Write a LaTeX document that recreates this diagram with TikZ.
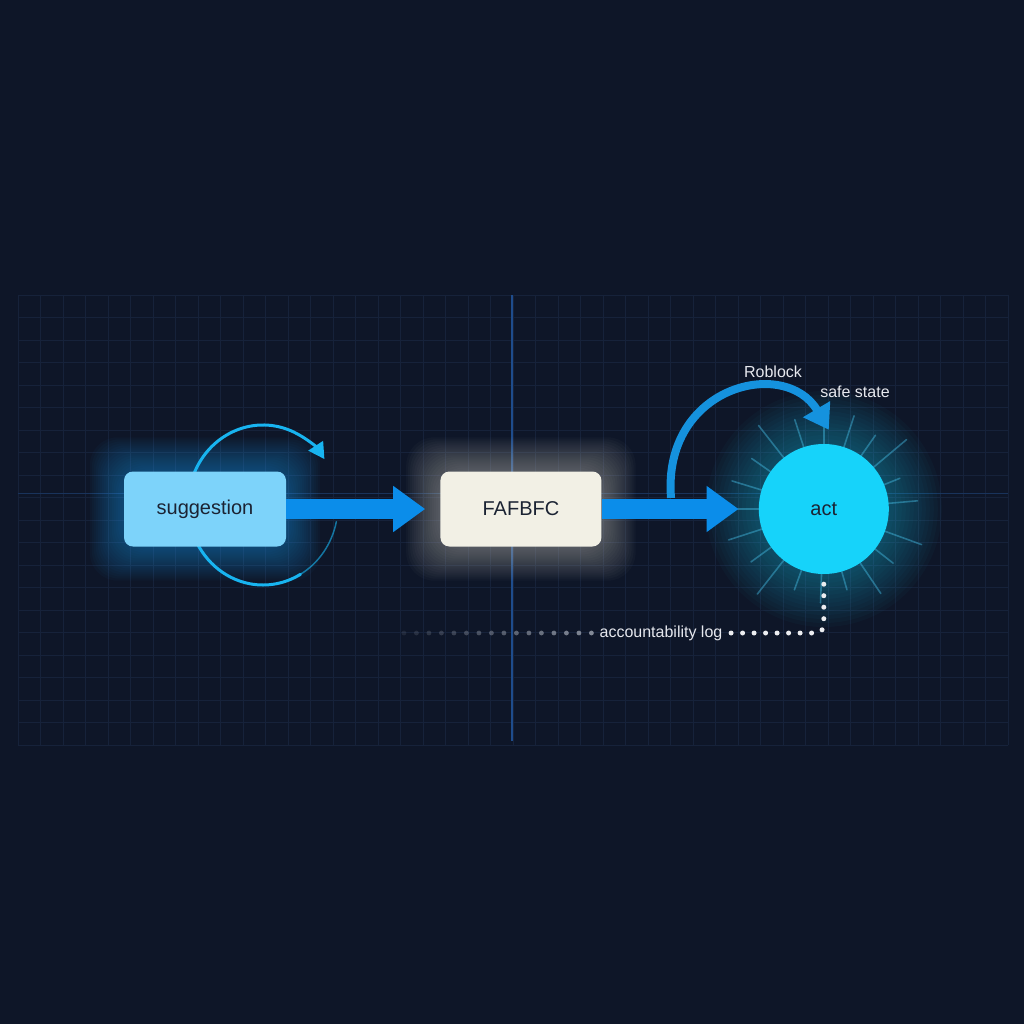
\documentclass[tikz,border=0pt]{standalone}
\usepackage{fontspec}
\setmainfont{Liberation Sans}
\usetikzlibrary{positioning,arrows.meta,backgrounds}
\definecolor{bgnavy}{HTML}{0E1628}
\definecolor{gridc}{HTML}{16223A}
\definecolor{axisc}{HTML}{1E4C8C}
\definecolor{sugfill}{HTML}{7DD3FA}
\definecolor{sugglow}{HTML}{1F9BEA}
\definecolor{cream}{HTML}{F2F0E5}
\definecolor{creamglow}{HTML}{D9D7CC}
\definecolor{flowc}{HTML}{0B8DEA}
\definecolor{actc}{HTML}{16D3FA}
\definecolor{rayc}{HTML}{4CCBF5}
\definecolor{cycc}{HTML}{18B4F0}
\definecolor{rbc}{HTML}{1592DE}
\definecolor{inkd}{HTML}{1B2333}
\definecolor{labc}{HTML}{E6E8EE}
\definecolor{dotc}{HTML}{ECEDF0}
\definecolor{dotg}{HTML}{9EA4B0}

\begin{document}
\begin{tikzpicture}[x=1pt, y=-1pt,
  box/.style={rounded corners=9pt, minimum width=162pt, minimum height=75pt, inner sep=0pt,
              text=inkd, font=\fontsize{20}{24}\selectfont},
  flow/.style={draw=flowc, line width=20pt, -{Triangle[length=32pt,width=44pt]}},
  cycarc/.style={draw=cycc, line width=3pt, line cap=round},
  rbarc/.style={draw=rbc, line width=8pt, -{Triangle[length=24pt,width=30pt]}},
  ray/.style={draw=rayc, line width=1.6pt, line cap=round, opacity=0.4},
  lab/.style={text=labc, font=\fontsize{16}{19}\selectfont},
  logdots/.style={draw=dotc, line width=5pt, line cap=round, dash pattern=on 0pt off 11.5pt}]
\useasboundingbox (0,0) rectangle (1024,1024);
% nodes
\node[box, fill=sugfill] (sug) at (205,509) {suggestion};
\node[box, fill=cream, minimum width=161pt, right=154pt of sug] (fab) {FAFBFC};
\node[circle, fill=actc, minimum size=130pt, inner sep=0pt, text=inkd,
      font=\fontsize{20}{24}\selectfont, right=157pt of fab] (act) {act};
\node[lab] (rob) at (773,372) {Roblock};
\node[lab] (safe) at (855,392) {safe state};
\node[lab, inner sep=4pt] (log) at (661,633) {accountability log};
% connectors
\draw[flow, shorten >=15pt] (sug) -- (fab);
\draw[flow, shorten >=20pt] (fab) -- (act);
\coordinate (rbstart) at (671,498);
\draw[rbarc] (rbstart) .. controls (662,386) and (785,356) .. ([xshift=5pt,yshift=14pt]act.north);
\draw[logdots, rounded corners=8pt] ([yshift=-10pt]act.south) |- (log.east);
\foreach \i in {1,...,16}
  \fill[dotg, opacity={0.85-0.045*\i}] ([xshift=-12.5*\i*1pt+8.5pt]log.west) circle[radius=2.4pt];
\begin{scope}[on background layer]
  \fill[bgnavy] (0,0) rectangle (1024,1024);
  \foreach \gx in {18,40.5,...,1008}
    \draw[gridc, line width=0.8pt] (\gx,295) -- (\gx,745);
  \foreach \gy in {295,317.5,...,745}
    \draw[gridc, line width=0.8pt] (18,\gy) -- (1008,\gy);
  \draw[gridc!60!axisc, line width=1pt] (18,493) -- (1008,493);
  \draw[axisc, line width=1.2pt] (512,295) -- (512,741);
  % glows
  \foreach \g in {2,4,...,34}
    \fill[sugglow, opacity=0.03, rounded corners=28pt] ([xshift=-\g pt, yshift=-\g pt]sug.south west)
      rectangle ([xshift=\g pt, yshift=\g pt]sug.north east);
  \foreach \g in {2,4,...,34}
    \fill[creamglow, opacity=0.028, rounded corners=28pt] ([xshift=-\g pt, yshift=-\g pt]fab.south west)
      rectangle ([xshift=\g pt, yshift=\g pt]fab.north east);
  \foreach \r in {66,70,...,118}
    \fill[actc, opacity=0.028] (act.center) circle[radius=\r pt];
  \foreach \a/\l in {5/30,22/18,40/44,55/26,72/34,90/20,108/30,128/42,145/24,163/32,
                     180/22,198/36,216/26,232/44,250/22,268/30,286/20,304/38,322/24,340/40}
    \draw[ray] (act.center) ++(\a:64pt) -- ++(\a:\l pt);
  % self loop round the suggestion
  \draw[cycarc, -{Triangle[length=16pt,width=17pt]}] ([xshift=58pt,yshift=4pt]sug.center) ++(156:75pt and 80pt)
    arc[start angle=156, end angle=35, x radius=75pt, y radius=80pt];
  \draw[cycarc] ([xshift=58pt,yshift=4pt]sug.center) ++(200:75pt and 80pt)
    arc[start angle=200, end angle=300, x radius=75pt, y radius=80pt];
  \draw[cycarc, line width=1.5pt, opacity=0.6] ([xshift=58pt,yshift=4pt]sug.center) ++(300:75pt and 80pt)
    arc[start angle=300, end angle=348, x radius=75pt, y radius=80pt];
\end{scope}
\end{tikzpicture}
\end{document}
